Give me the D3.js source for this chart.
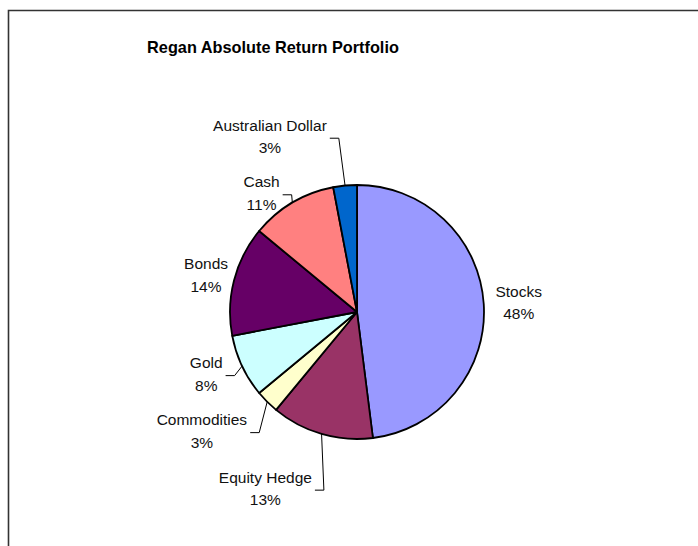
<!DOCTYPE html>
<html><head><meta charset="utf-8">
<script src="https://cdn.jsdelivr.net/npm/d3@7/dist/d3.min.js"></script>
<style>body{margin:0;background:#fff}svg{display:block}</style>
</head><body>
<script>
const categories = ["Stocks","Equity Hedge","Commodities","Gold","Bonds","Cash","Australian Dollar"];
const values = [48,13,3,8,14,11,3];
const percentLabels = ["48%","13%","3%","8%","14%","11%","3%"];
const colors = ["#9999FF","#993366","#FFFFCC","#CCFFFF","#660066","#FF8080","#0066CC"];
const title = "Regan Absolute Return Portfolio";

const W = 698, H = 546;
const cx = 357, cy = 312, R = 127;
// label layout: base radius + nudges (layout only)
const labelR = 160;
const nudges = [[2,6],[-47,28],[-42,11],[-6,-1],[4,8],[-14,24],[-72,-11]];
const hasLeader = [false,true,true,true,false,true,true];

const svg = d3.select("body").append("svg").attr("width",W).attr("height",H);
svg.append("rect").attr("width",W).attr("height",H).attr("fill","#fff");
svg.append("path").attr("d",`M8.5,${H+5} L8.5,10.5 L${W+5},10.5`)
  .attr("fill","none").attr("stroke","#333").attr("stroke-width",1.6);

svg.append("text").attr("x",273).attr("y",53).attr("text-anchor","middle")
  .attr("font-family","Liberation Sans, Arial, sans-serif").attr("font-weight","bold")
  .attr("font-size",16.3).attr("fill","#000").text(title);

const data = categories.map((c,i)=>({cat:c,val:values[i],pct:percentLabels[i],color:colors[i],i}));
const pie = d3.pie().value(d=>d.val).sort(null);
const arcs = pie(data);
const arc = d3.arc().innerRadius(0).outerRadius(R);
const g = svg.append("g").attr("transform",`translate(${cx},${cy})`);
g.selectAll("path.slice").data(arcs).join("path").attr("class","slice")
  .attr("d",arc).attr("fill",d=>d.data.color).attr("stroke","#000").attr("stroke-width",1.8)
  .attr("stroke-linejoin","round");

const font = "Liberation Sans, Arial, sans-serif";
arcs.forEach(a=>{
  const i = a.data.i;
  const mid = (a.startAngle+a.endAngle)/2;
  const bx = cx + labelR*Math.sin(mid) + nudges[i][0];
  const by = cy - labelR*Math.cos(mid) + nudges[i][1];
  const t = svg.append("text").attr("font-family",font).attr("font-size",15.5)
    .attr("fill","#111").attr("text-anchor","middle");
  t.append("tspan").attr("x",bx).attr("y",by-11).text(a.data.cat);
  t.append("tspan").attr("x",bx).attr("y",by+11.5).text(a.data.pct);
  if(hasLeader[i]){
    const w = t.node().getBBox().width;
    const x0 = bx + w/2 + 3, y0 = by - 3.5;
    const rx = cx + R*Math.sin(mid), ry = cy - R*Math.cos(mid);
    svg.append("path").attr("d",`M${x0},${y0} L${x0+9},${y0} L${rx},${ry}`)
      .attr("fill","none").attr("stroke","#000").attr("stroke-width",1);
  }
});
</script>
</body></html>
